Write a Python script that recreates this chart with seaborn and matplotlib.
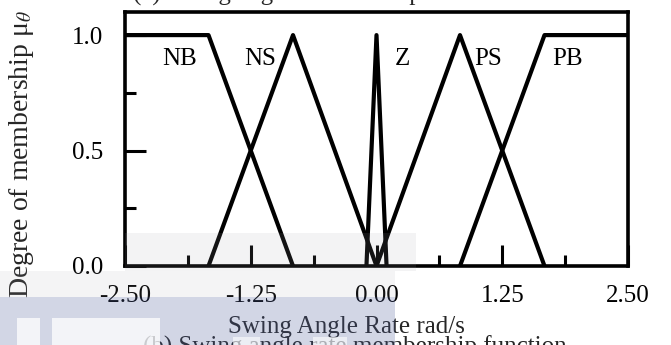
import matplotlib
matplotlib.use("Agg")
import matplotlib.pyplot as plt
from matplotlib.patches import Rectangle
from matplotlib.ticker import MultipleLocator
import numpy as np
import pandas as pd
import seaborn as sns

# Membership functions of the swing angle rate (breakpoints in rad/s)
sets = ["NB", "NS", "Z", "PS", "PB"]
nb_x = [-2.50, -1.67, -0.83]
nb_y = [1.0, 1.0, 0.0]
ns_x = [-1.67, -0.83, 0.00]
ns_y = [0.0, 1.0, 0.0]
z_x = [-0.10, 0.00, 0.10]
z_y = [0.0, 1.0, 0.0]
ps_x = [0.00, 0.83, 1.67]
ps_y = [0.0, 1.0, 0.0]
pb_x = [0.83, 1.67, 2.50]
pb_y = [0.0, 1.0, 1.0]

label_x = [-1.96, -1.16, 0.26, 1.11, 1.90]
label_y = 0.87

x_ticks = [-2.50, -1.25, 0.00, 1.25, 2.50]
y_ticks = [0.0, 0.5, 1.0]

frames = []
for name, xs, ys in zip(sets, [nb_x, ns_x, z_x, ps_x, pb_x],
                        [nb_y, ns_y, z_y, ps_y, pb_y]):
    frames.append(pd.DataFrame({"rate": xs, "mu": ys, "set": name}))
df = pd.concat(frames, ignore_index=True)

sns.set_theme(style="ticks")
plt.rcParams["font.family"] = ["Liberation Serif", "DejaVu Serif"]
plt.rcParams["mathtext.fontset"] = "stix"

W, H = 671, 345
fig = plt.figure(figsize=(W / 100, H / 100), dpi=100)
fig.patch.set_facecolor("white")
ax = fig.add_axes([125 / W, (H - 266) / H, (628 - 125) / W, (266 - 12) / H])
ax.set_facecolor("white")

sns.lineplot(data=df, x="rate", y="mu", hue="set", units="set",
             estimator=None, sort=False, palette={s: "black" for s in sets},
             linewidth=3.0, legend=False, ax=ax)

for name, lx in zip(sets, label_x):
    ax.text(lx, label_y, name, ha="center", va="baseline", fontsize=18,
            color="black")

ax.set_xlim(-2.5, 2.5)
ax.set_ylim(0, 1.1)
ax.set_xticks(x_ticks)
ax.set_xticklabels([f"{v:.2f}" for v in x_ticks])
ax.set_yticks(y_ticks)
ax.set_yticklabels([f"{v:.1f}" for v in y_ticks])
ax.xaxis.set_minor_locator(MultipleLocator(0.625))
ax.yaxis.set_minor_locator(MultipleLocator(0.25))
ax.tick_params(which="both", direction="in", width=2.2, color="black",
               labelsize=18, labelcolor="black")
ax.tick_params(which="major", length=15)
ax.tick_params(which="minor", length=8)
ax.tick_params(axis="x", which="major", pad=14)
ax.tick_params(axis="y", which="major", pad=16)
for sp in ax.spines.values():
    sp.set_linewidth(2.6)
    sp.set_color("black")
ax.set_xlabel("")
ax.set_ylabel("")

fig.text(346 / W, (H - 333) / H, "Swing Angle Rate rad/s", ha="center",
         va="baseline", fontsize=18)
fig.text(22 / W, (H - 154) / H, r"Degree of membership μ$_{\theta}$",
         rotation=90, ha="center", va="center", fontsize=20)
fig.text(322 / W, (H - 1) / H, "(a) Swing angle membership function",
         ha="center", va="baseline", fontsize=18)
fig.text(355 / W, (H - 354) / H, "(b) Swing angle rate membership function",
         ha="center", va="baseline", fontsize=18)


def px_rect(x0, y0, x1, y1, color, alpha):
    """Rectangle given in pixel coordinates measured from the top-left."""
    r = Rectangle((x0 / W, (H - y1) / H), (x1 - x0) / W, (y1 - y0) / H,
                  transform=fig.transFigure, facecolor=color, alpha=alpha,
                  edgecolor="none", zorder=10)
    fig.add_artist(r)


# translucent panels along the lower edge
px_rect(125, 233, 416, 271, "#a0a0aa", 0.12)
px_rect(0, 271, 395, 297, "#a0a0aa", 0.11)
px_rect(0, 297, 395, 345, "#52629e", 0.26)
px_rect(17, 318, 40, 345, "white", 0.75)
px_rect(52, 318, 160, 345, "white", 0.75)
px_rect(233, 337, 260, 345, "white", 0.6)
px_rect(313, 337, 347, 345, "white", 0.6)

fig.savefig("out.png", dpi=100, facecolor="white")
